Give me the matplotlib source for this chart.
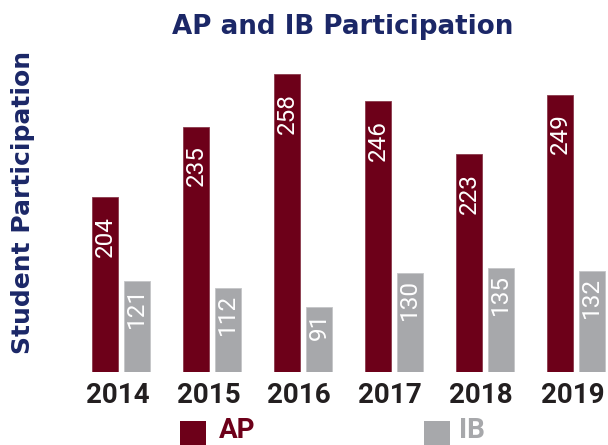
import matplotlib
matplotlib.use("Agg")
import matplotlib.pyplot as plt
from matplotlib.patches import Rectangle
from matplotlib.transforms import offset_copy
import numpy as np

years = ["2014", "2015", "2016", "2017", "2018", "2019"]
ap = [204, 235, 258, 246, 223, 249]
ib = [121, 112, 91, 130, 135, 132]
series = ["AP", "IB"]

AP_COLOR = "#6d0019"
IB_COLOR = "#a7a8ab"
NAVY = "#1b2767"
NARROW = ["Roboto", "DejaVu Sans"]

W, H = 608, 445
fig = plt.figure(figsize=(W / 100, H / 100), dpi=100)

base_px = 372
top_px = 60
ax = fig.add_axes([0, (H - base_px) / H, 1, (base_px - top_px) / H])
ax2 = ax.twinx()

x = np.arange(len(years))
off = 0.175
bw = 0.285
ax.bar(x - off, ap, width=bw, color=AP_COLOR, edgecolor="#8a3a4c", linewidth=0.6, zorder=2)
ax2.bar(x + off, ib, width=bw, color=IB_COLOR, edgecolor="#c4c5c7", linewidth=0.6, zorder=2)

ax.set_xlim(-121 / 91.0, (W - 121) / 91.0)
ax.set_ylim(127.6, 264.1)
ax2.set_ylim(16.2, 373.6)

for a in (ax, ax2):
    for s in a.spines.values():
        s.set_visible(False)
    a.set_yticks([])
ax.tick_params(axis="x", length=0, pad=7)

ax.set_xticks(x - 0.04)
ax.set_xticklabels(years, fontsize=20, fontweight="bold", color="#231f20", family=NARROW)

for xi, v in zip(x, ap):
    t = offset_copy(ax.transData, fig=fig, x=0, y=-19, units="dots")
    ax.text(xi - off, v, str(v), rotation=90, ha="center", va="top", color="white",
            fontsize=17.5, family=NARROW, transform=t, zorder=3)
for xi, v in zip(x, ib):
    t = offset_copy(ax2.transData, fig=fig, x=0, y=-6, units="dots")
    ax2.text(xi + off, v, str(v), rotation=90, ha="center", va="top", color="white",
             fontsize=17.5, family=NARROW, transform=t, zorder=3)

fig.text(343 / W, 1 - 27 / H, "AP and IB Participation", ha="center", va="center",
         fontsize=18.8, fontweight="bold", color=NAVY)
fig.text(23 / W, 1 - 202 / H, "Student Participation", ha="center", va="center",
         rotation=90, fontsize=18, fontweight="bold", color=NAVY)

# legend (drawn in figure pixels, square partly clipped at the bottom like the source)
for (sq_x, tx_x), name, col in zip([(180, 219), (424, 459)], series, [AP_COLOR, IB_COLOR]):
    fig.patches.append(Rectangle((sq_x / W, (H - 447) / H), 26 / W, 26 / H,
                                 transform=fig.transFigure, facecolor=col, edgecolor="none"))
    fig.text(tx_x / W, 1 / H, name, ha="left", va="bottom", color=col,
             fontsize=20, fontweight="bold", family=NARROW)

fig.savefig("out.png", dpi=100)
